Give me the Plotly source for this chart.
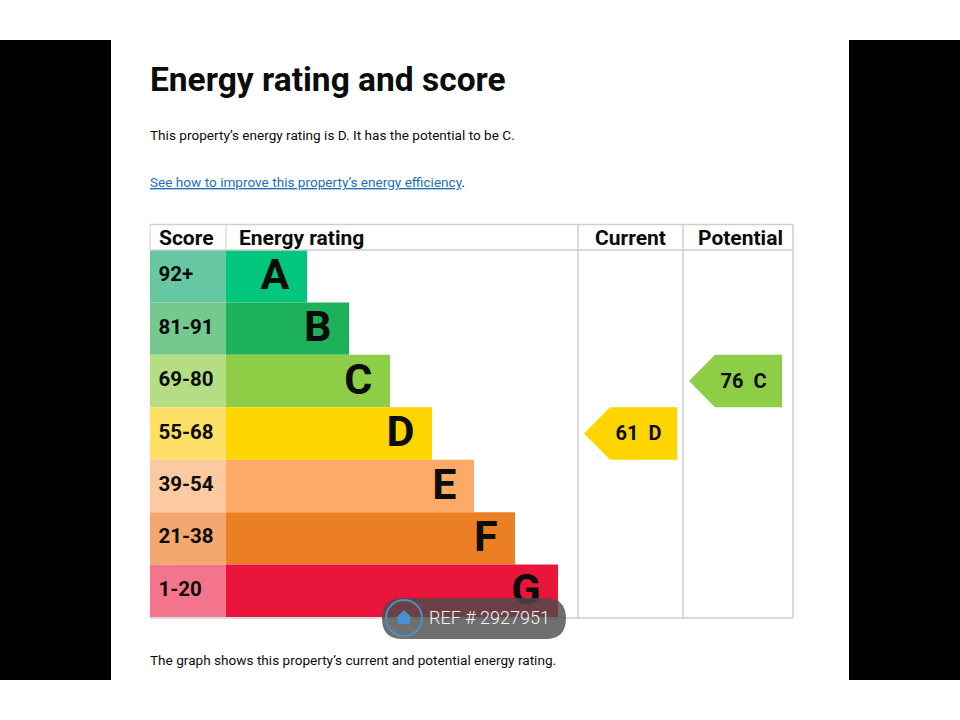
import plotly.graph_objects as go

bands = ["A", "B", "C", "D", "E", "F", "G"]
scores = ["92+", "81-91", "69-80", "55-68", "39-54", "21-38", "1-20"]
bar_lengths = [81, 123, 164, 206, 248, 289, 332]
band_colors = ["#03c67e", "#1cb15a", "#8dce46", "#ffd500", "#fcaa65", "#ec7f24", "#e9153b"]
score_colors = ["#67c7a3", "#75c98f", "#b4dd84", "#ffe066", "#fdc9a0", "#f4a870", "#f4758b"]
current_value, current_band = 61, "D"
potential_value, potential_band = 76, "C"
title = "Energy rating and score"
intro = "This property’s energy rating is D. It has the potential to be C."
link = "See how to improve this property’s energy efficiency"
footer = "The graph shows this property’s current and potential energy rating."
watermark = "REF # 2927951"

W, H = 960, 720
L, R, T, B = 150, 793, 250, 617
SCORE_W = 76
xr = [-SCORE_W, R - L - SCORE_W]
FONT = "Roboto"
INK = "#0b0c0c"
GRID = "#cfcfcf"

px = lambda v: (v - L) / (R - L)
py = lambda v: (B - v) / (B - T)
ax = lambda v: v - L - SCORE_W   # page x -> axis units (1 unit = 1 px)

fig = go.Figure()
y = list(range(len(bands)))
fig.add_trace(go.Bar(y=y, x=[SCORE_W] * 7, base=[-SCORE_W] * 7, orientation="h", width=1,
                     marker=dict(color=score_colors, line=dict(width=0)), hoverinfo="skip"))
fig.add_trace(go.Bar(y=y, x=bar_lengths, base=[0] * 7, orientation="h", width=1,
                     marker=dict(color=band_colors, line=dict(width=0)), hoverinfo="skip"))
fig.add_trace(go.Scatter(y=y, x=[-SCORE_W + 8.5] * 7, mode="text", text=scores, textposition="middle right",
                         textfont=dict(family=FONT, size=20.5, color=INK, weight=700), hoverinfo="skip"))
fig.add_trace(go.Scatter(y=[i + 0.04 for i in y], x=[v - 17.5 for v in bar_lengths], mode="text", text=bands,
                         textposition="middle left",
                         textfont=dict(family=FONT, size=43, color=INK, weight=700), hoverinfo="skip"))


def arrow(value, band, left, right):
    i = bands.index(band)
    a, b, tip = ax(left), ax(right), ax(left + 26)
    fig.add_trace(go.Scatter(x=[a, tip, b, b, tip, a], y=[i, i - .5, i - .5, i + .5, i + .5, i],
                             mode="lines", fill="toself", fillcolor=band_colors[i], line=dict(width=0),
                             hoverinfo="skip"))
    fig.add_trace(go.Scatter(x=[(a + b) / 2 + 8], y=[i + 0.035], mode="text", text=[f"{value}&nbsp;&nbsp;{band}"],
                             textposition="middle center",
                             textfont=dict(family=FONT, size=20, color=INK, weight=700), hoverinfo="skip"))


arrow(current_value, current_band, 584, 677)
arrow(potential_value, potential_band, 689, 782)

shapes = []


def rect(x0, y0, x1, y1, color, layer="below"):
    shapes.append(dict(type="rect", xref="paper", yref="paper", x0=px(x0), x1=px(x1), y0=py(y0), y1=py(y1),
                       fillcolor=color, line=dict(width=0), layer=layer))


def line(x0, y0, x1, y1, width=1.5):
    shapes.append(dict(type="line", xref="paper", yref="paper", x0=px(x0), x1=px(x1), y0=py(y0), y1=py(y1),
                       line=dict(color=GRID, width=width), layer="above"))


rect(0, 40, 111, 680, "#000000")
rect(849, 40, 960, 680, "#000000")
line(L, 224.5, R, 224.5)
line(L, 250, R, 250)
line(L, 618, R, 618)
line(L, 224.5, L, 250, 1)
line(226, 224.5, 226, 250, 1)
line(578, 224.5, 578, 618)
line(683, 224.5, 683, 618)
line(793, 224.5, 793, 618)

# watermark pill
pl, pr, pt, pb = 382, 566, 598, 639
r = (pb - pt) / 2
path = (f"M {px(pl + r)} {py(pt)} L {px(pr - r)} {py(pt)} "
        f"Q {px(pr)} {py(pt)} {px(pr)} {py((pt + pb) / 2)} Q {px(pr)} {py(pb)} {px(pr - r)} {py(pb)} "
        f"L {px(pl + r)} {py(pb)} Q {px(pl)} {py(pb)} {px(pl)} {py((pt + pb) / 2)} "
        f"Q {px(pl)} {py(pt)} {px(pl + r)} {py(pt)} Z")
shapes.append(dict(type="path", xref="paper", yref="paper", path=path, fillcolor="rgba(75,75,75,0.8)",
                   line=dict(width=0), layer="above"))
shapes.append(dict(type="circle", xref="paper", yref="paper", x0=px(386), x1=px(422), y0=py(600), y1=py(636),
                   fillcolor="rgba(0,0,0,0)", line=dict(color="#4f8fc4", width=2), layer="above"))
home = [(404, 610), (412, 618), (410, 618), (410, 624), (398, 624), (398, 618), (396, 618)]
shapes.append(dict(type="path", xref="paper", yref="paper",
                   path="M " + " L ".join(f"{px(a)} {py(b)}" for a, b in home) + " Z",
                   fillcolor="#4a90d0", line=dict(width=0), layer="above"))


def label(x, yy, text, size, bold=False, color=INK, anchor="left", weight=None):
    return dict(x=px(x), y=py(yy), xref="paper", yref="paper", text=text, showarrow=False, xanchor=anchor,
                yanchor="middle", align=anchor, borderpad=0, borderwidth=0,
                font=dict(family=FONT, size=size, color=color, weight=weight or (700 if bold else 400)))


annotations = [
    label(150, 79.5, title, 33.5, True),
    label(150, 134.5, intro, 13.6),
    label(150, 182, f'<span style="color:#1d70b8"><u>{link}</u></span>.', 13.6),
    label(158.5, 238, "Score", 21, True),
    label(239, 238, "Energy rating", 21, True),
    label(630.5, 238, "Current", 21, True, anchor="center"),
    label(740, 238, "Potential", 21, True, anchor="center"),
    label(150, 660, footer, 13.6),
    label(429, 617, watermark, 18, False, "#f5f5f5", weight=300),
]

fig.update_layout(
    width=W, height=H, autosize=False, showlegend=False, barmode="overlay",
    paper_bgcolor="#ffffff", plot_bgcolor="#ffffff",
    margin=dict(l=L, r=W - R, t=T, b=H - B, pad=0),
    xaxis=dict(range=xr, visible=False, fixedrange=True),
    yaxis=dict(range=[6.5, -0.5], visible=False, fixedrange=True),
    shapes=shapes, annotations=annotations,
)
fig.write_html("out.html", config={"displayModeBar": False},
               post_script="document.body.style.margin='0';document.body.style.overflow='hidden';")
